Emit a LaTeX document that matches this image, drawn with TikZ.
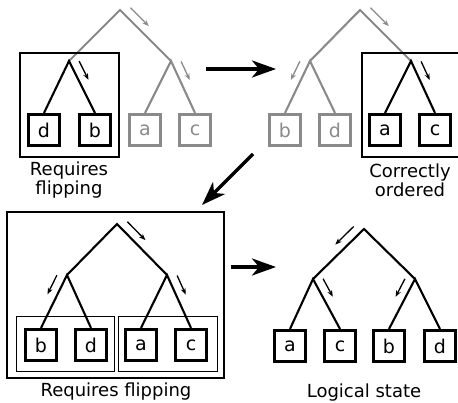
\documentclass[tikz,border=0pt]{standalone}
\usepackage{fontspec}
\setmainfont{DejaVu Sans}
\usetikzlibrary{calc,arrows.meta}
\definecolor{faded}{RGB}{138,138,138}

% small arrow running beside an edge, on its outer side
\newcommand\flowarrow[4][]{%
  \draw[flow,#1] ($(#2)!0.08!(#3)!9pt!#4:(#3)$) -- ($(#2)!0.44!(#3)!9pt!#4:(#3)$);}

\begin{document}
\begin{tikzpicture}[x=1pt,y=-1pt,
  leaf/.style={draw,line width=2.6pt,minimum size=31.5pt,inner sep=0pt,
    font=\fontsize{19}{21}\selectfont},
  edge/.style={line width=2.1pt,line join=miter},
  flow/.style={line width=1.3pt,-{Stealth[length=6.5pt,width=5pt]}},
  frame/.style={draw,line width=1.3pt},
  thinframe/.style={draw,line width=0.9pt},
  step arrow/.style={line width=3.5pt,-{Stealth[length=24pt,width=17pt,inset=7pt]}},
  caption/.style={align=center,inner sep=0pt,anchor=north,
    font=\fontsize{18}{19}\selectfont},
]
\useasboundingbox (0,0) rectangle (458,403);

% ---------- top left: left pair needs flipping ----------
\coordinate (ar) at (120,10);
\coordinate (al) at (69,61);
\coordinate (aq) at (171,61);
\node[leaf] (ad) at (44,130) {d};
\node[leaf] (ab) at (95,130) {b};
\node[leaf,faded] (aa) at (145,130) {a};
\node[leaf,faded] (ac) at (195,130) {c};
\draw[edge,faded] (al) -- (ar) -- (aq);
\draw[edge,faded] (aa.north) -- (aq) -- (ac.north);
\draw[edge] (ad.north) -- (al) -- (ab.north);
\flowarrow[faded]{ar}{aq}{90}
\flowarrow{al}{ab.north}{90}
\flowarrow[faded]{aq}{ac.north}{90}
\node[frame,minimum width=99pt,minimum height=104pt] (aframe) at (69.5,105) {};
\node[caption] (acap) at (69,162) {Requires\\flipping};

% ---------- top right: right pair already in order ----------
\coordinate (br) at (360,10);
\coordinate (bl) at (310,61);
\coordinate (bq) at (411,61);
\node[leaf,faded] (bb) at (285,130) {b};
\node[leaf,faded] (bd) at (335,130) {d};
\node[leaf] (ba) at (385,130) {a};
\node[leaf] (bc) at (435,130) {c};
\draw[edge,faded] (bl) -- (br) -- (bq);
\draw[edge,faded] (bb.north) -- (bl) -- (bd.north);
\draw[edge] (ba.north) -- (bq) -- (bc.north);
\flowarrow[faded]{br}{bq}{90}
\flowarrow[faded]{bl}{bb.north}{-90}
\flowarrow{bq}{bc.north}{90}
\node[frame,minimum width=100pt,minimum height=104pt] (bframe) at (412,105) {};
\node[caption] (bcap) at (410,164) {Correctly\\ordered};

% ---------- bottom left: whole tree needs flipping ----------
\coordinate (cr) at (117,224);
\coordinate (cl) at (67,275);
\coordinate (cq) at (167,275);
\node[leaf] (cb) at (41,345) {b};
\node[leaf] (cd) at (91,345) {d};
\node[leaf] (ca) at (141,345) {a};
\node[leaf] (cc) at (191,345) {c};
\draw[edge] (cl) -- (cr) -- (cq);
\draw[edge] (cb.north) -- (cl) -- (cd.north);
\draw[edge] (ca.north) -- (cq) -- (cc.north);
\flowarrow{cr}{cq}{90}
\flowarrow{cl}{cb.north}{-90}
\flowarrow{cq}{cc.north}{90}
\node[frame,minimum width=217pt,minimum height=166pt] (cframe) at (115.5,295) {};
\node[thinframe,minimum width=98pt,minimum height=55pt] (cleft) at (65,343.5) {};
\node[thinframe,minimum width=99pt,minimum height=55pt] (cright) at (167.5,343.5) {};
\node[caption] (ccap) at (116,383) {Requires flipping};

% ---------- bottom right: logical state ----------
\coordinate (dr) at (364,229);
\coordinate (dl) at (313,279);
\coordinate (dq) at (415,279);
\node[leaf] (da) at (290,346) {a};
\node[leaf] (dc) at (340,346) {c};
\node[leaf] (db) at (389,346) {b};
\node[leaf] (dd) at (440,346) {d};
\draw[edge] (dl) -- (dr) -- (dq);
\draw[edge] (da.north) -- (dl) -- (dc.north);
\draw[edge] (db.north) -- (dq) -- (dd.north);
\flowarrow{dr}{dl}{-90}
\flowarrow{dl}{dc.north}{90}
\flowarrow{dq}{db.north}{-90}
\node[caption] (dcap) at (364,384) {Logical state};

% ---------- steps between the stages ----------
\coordinate (s1a) at (206,69);
\coordinate (s1b) at (276,69);
\coordinate (s2a) at (253,154);
\coordinate (s2b) at (202,205);
\coordinate (s3a) at (231,267);
\coordinate (s3b) at (276,267);
\draw[step arrow] (s1a) -- (s1b);
\draw[step arrow] (s2a) -- (s2b);
\draw[step arrow] (s3a) -- (s3b);
\end{tikzpicture}
\end{document}
